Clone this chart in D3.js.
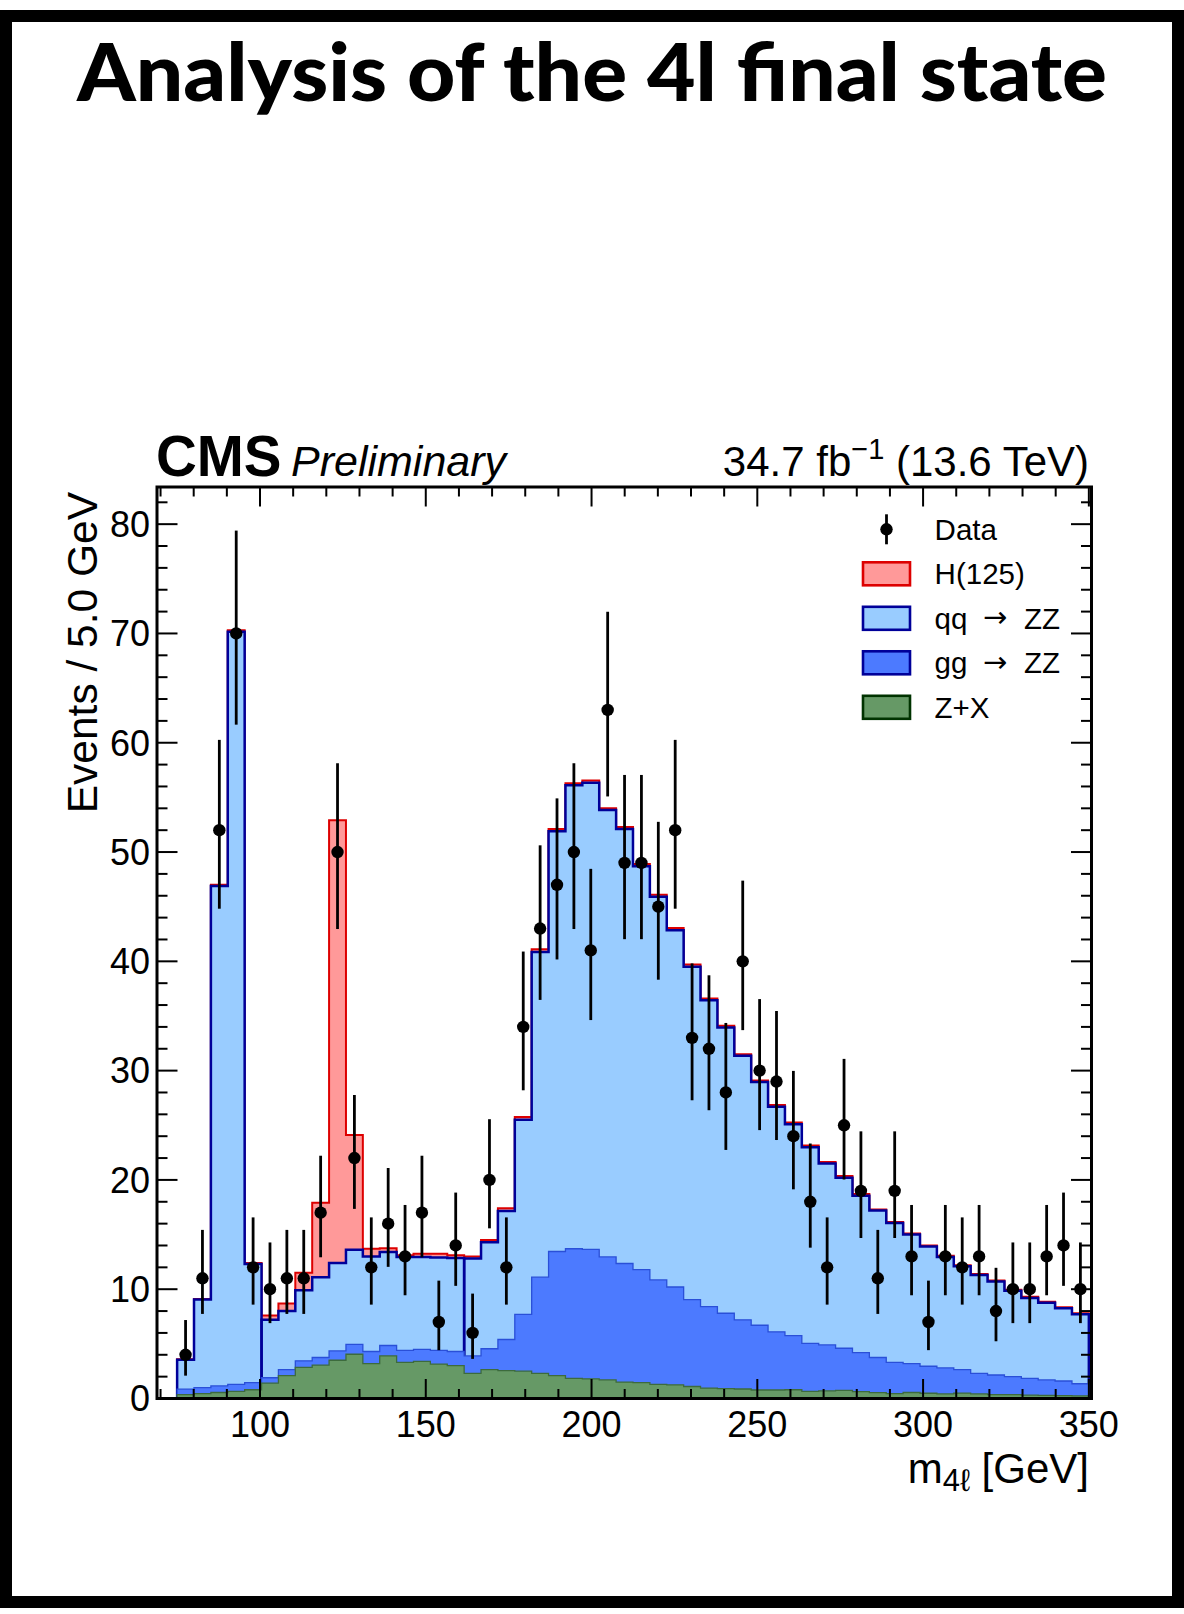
<!DOCTYPE html>
<html>
<head>
<meta charset="utf-8">
<script src="https://cdn.jsdelivr.net/npm/d3@7"></script>
<style>
  html, body { margin: 0; padding: 0; background: #ffffff; }
  svg { display: block; }
  text { font-family: "Liberation Sans", Arial, Helvetica, sans-serif; }
</style>
</head>
<body>
<svg id="chart" width="1184" height="1614"></svg>
<script>
// ---- binning of the four-lepton mass histogram (GeV) ----
const binLow = 75;
const binHigh = 350;
const nBins = 54;

// observed events per bin
const dataCounts = [
  4, 11, 52, 70, 12, 10, 11, 11, 17, 50,
  22, 12, 16, 13, 17, 7, 14, 6, 20, 12,
  34, 43, 47, 50, 41, 63, 49, 49, 45, 52,
  33, 32, 28, 40, 30, 29, 24, 18, 12, 25,
  19, 11, 19, 13, 7, 13, 12, 13, 8, 10,
  10, 13, 14, 10
];

// expected yields per bin, one array per process
const zxYield = [
  0.35, 0.45, 0.55, 0.65, 0.80, 1.40, 2.10, 2.85, 3.05, 3.50,
  4.05, 3.20, 3.90, 3.30, 3.40, 3.15, 3.00, 2.30, 2.65, 2.55,
  2.50, 2.30, 2.10, 1.85, 1.80, 1.70, 1.50, 1.45, 1.30, 1.25,
  1.10, 0.95, 0.90, 0.87, 0.78, 0.78, 0.80, 0.65, 0.70, 0.75,
  0.62, 0.53, 0.45, 0.55, 0.48, 0.42, 0.50, 0.42, 0.36, 0.36,
  0.30, 0.28, 0.27, 0.24
];
const ggYield = [
  0.50, 0.55, 0.60, 0.65, 0.65, 0.50, 0.55, 0.60, 0.70, 0.85,
  0.90, 1.10, 0.95, 1.10, 1.10, 1.25, 1.30, 1.60, 1.90, 2.85,
  5.20, 8.80, 11.35, 11.85, 11.85, 11.25, 10.85, 10.35, 9.55, 8.95,
  7.95, 7.45, 6.90, 6.33, 5.92, 5.32, 4.95, 4.40, 4.20, 3.85,
  3.58, 3.22, 2.85, 2.65, 2.47, 2.38, 2.15, 1.88, 1.79, 1.64,
  1.55, 1.42, 1.33, 1.11
];
const qqYield = [
  2.70, 8.05, 45.75, 68.85, 10.85, 5.30, 5.35, 6.45, 7.35, 8.05,
  8.65, 8.70, 8.55, 8.55, 8.45, 8.50, 8.55, 8.90, 9.75, 11.75,
  17.80, 29.75, 38.45, 42.40, 42.70, 40.90, 39.75, 36.90, 35.05, 32.65,
  30.45, 28.05, 26.15, 24.15, 22.25, 20.60, 19.35, 17.95, 16.60, 15.60,
  14.35, 13.45, 12.75, 11.80, 10.95, 10.15, 9.45, 9.00, 8.55, 7.85,
  7.35, 7.05, 6.65, 6.35
];
const higgsYield = [
  0.05, 0.05, 0.10, 0.15, 0.10, 0.40, 0.70, 1.60, 6.80, 40.50,
  10.50, 0.70, 0.35, 0.15, 0.30, 0.35, 0.25, 0.20, 0.20, 0.25,
  0.25, 0.25, 0.20, 0.20, 0.20, 0.15, 0.20, 0.20, 0.20, 0.20,
  0.20, 0.15, 0.15, 0.15, 0.15, 0.15, 0.15, 0.15, 0.15, 0.15,
  0.15, 0.10, 0.10, 0.10, 0.10, 0.10, 0.10, 0.10, 0.10, 0.10,
  0.10, 0.10, 0.10, 0.10
];

// the qq -> ZZ outline is drawn in three mass windows (first bin of each)
const qqWindowStarts = [0, 5, 17];

const xTickValues = [100, 150, 200, 250, 300, 350];
const yTickValues = [0, 10, 20, 30, 40, 50, 60, 70, 80];

const legendEntries = [
  { key: "data", label: "Data" },
  { key: "higgs", label: "H(125)", fill: "#ff9999", stroke: "#dd0000" },
  { key: "qq", label: "qq", arrow: true, fill: "#99ccff", stroke: "#000099" },
  { key: "gg", label: "gg", arrow: true, fill: "#4c7aff", stroke: "#000099" },
  { key: "zx", label: "Z+X", fill: "#669966", stroke: "#003300" }
];

// ---- frame and scales ----
const frame = { left: 157, right: 1091.5, top: 487, bottom: 1398.5 };
const x = d3.scaleLinear().domain([68.93, 350.8]).range([frame.left, frame.right]);
const y = d3.scaleLinear().domain([0, 83.4]).range([frame.bottom, frame.top]);

const edges = d3.range(nBins + 1).map(i => binLow + i * (binHigh - binLow) / nBins);
const centers = d3.range(nBins).map(i => (edges[i] + edges[i + 1]) / 2);

// stacked tops: Z+X at the bottom, then gg, qq and H(125) on top
const zxTop = zxYield.slice();
const ggTop = zxTop.map((v, i) => v + ggYield[i]);
const qqTop = ggTop.map((v, i) => v + qqYield[i]);
const totTop = qqTop.map((v, i) => v + higgsYield[i]);

const svg = d3.select("#chart");

// page border
svg.append("rect")
  .attr("x", 6).attr("y", 16).attr("width", 1172).attr("height", 1586)
  .attr("fill", "none").attr("stroke", "#000").attr("stroke-width", 12);

// headline
svg.append("text")
  .attr("x", 77).attr("y", 101)
  .attr("textLength", 1030).attr("lengthAdjust", "spacingAndGlyphs")
  .style("font-family", "Lato, 'Open Sans', sans-serif")
  .style("font-weight", 900)
  .style("font-size", "80px")
  .text("Analysis of the 4l final state");

// step outline from bin a to bin b, starting and ending on the baseline
function stepPath(tops, a, b) {
  let p = `M${x(edges[a])},${y(0)}`;
  for (let i = a; i <= b; i++) {
    p += `L${x(edges[i])},${y(tops[i])}L${x(edges[i + 1])},${y(tops[i])}`;
  }
  p += `L${x(edges[b + 1])},${y(0)}`;
  return p;
}

const plot = svg.append("g");

function drawLayer(tops, fill, stroke, width, windows) {
  plot.append("path")
    .attr("d", stepPath(tops, 0, nBins - 1) + "Z")
    .attr("fill", fill).attr("stroke", "none");
  windows.forEach((start, w) => {
    const end = w + 1 < windows.length ? windows[w + 1] - 1 : nBins - 1;
    plot.append("path")
      .attr("d", stepPath(tops, start, end))
      .attr("fill", "none").attr("stroke", stroke)
      .attr("stroke-width", width).attr("stroke-linejoin", "miter");
  });
}

drawLayer(totTop, "#ff9999", "#dd0000", 2, [0]);
drawLayer(qqTop, "#99ccff", "#000099", 2.5, qqWindowStarts);
drawLayer(ggTop, "#4c7aff", "#2a4fd8", 1.3, [0]);
drawLayer(zxTop, "#669966", "#3d6b3d", 1.3, [0]);

// ---- axes ----
const axes = svg.append("g").attr("stroke", "#000");
const xMinor = d3.range(70, 351, 10);
const yMinor = d3.range(0, 83.4, 2);

xMinor.forEach(v => {
  const major = xTickValues.includes(v);
  const len = major ? 19.5 : 9.5;
  axes.append("line").attr("x1", x(v)).attr("x2", x(v))
    .attr("y1", frame.bottom).attr("y2", frame.bottom - len).attr("stroke-width", 2);
  axes.append("line").attr("x1", x(v)).attr("x2", x(v))
    .attr("y1", frame.top).attr("y2", frame.top + len).attr("stroke-width", 2);
});
yMinor.forEach(v => {
  const major = Math.abs(v % 10) < 1e-9;
  const len = major ? 20.5 : 10.5;
  axes.append("line").attr("y1", y(v)).attr("y2", y(v))
    .attr("x1", frame.left).attr("x2", frame.left + len).attr("stroke-width", 2);
  axes.append("line").attr("y1", y(v)).attr("y2", y(v))
    .attr("x1", frame.right).attr("x2", frame.right - len).attr("stroke-width", 2);
});

svg.append("rect")
  .attr("x", frame.left).attr("y", frame.top)
  .attr("width", frame.right - frame.left).attr("height", frame.bottom - frame.top)
  .attr("fill", "none").attr("stroke", "#000").attr("stroke-width", 3);

svg.append("g").selectAll("text").data(xTickValues).join("text")
  .attr("x", d => x(d)).attr("y", 1436.5)
  .attr("text-anchor", "middle").style("font-size", "36px")
  .text(d => d);

svg.append("g").selectAll("text").data(yTickValues).join("text")
  .attr("x", 150).attr("y", d => y(d) + 12.8)
  .attr("text-anchor", "end").style("font-size", "36px")
  .text(d => d);

// axis titles
svg.append("text")
  .attr("transform", "translate(97,492) rotate(-90)")
  .attr("text-anchor", "end").style("font-size", "42.5px")
  .text("Events / 5.0 GeV");

const xTitle = svg.append("text")
  .attr("x", 1089).attr("y", 1483)
  .attr("text-anchor", "end").style("font-size", "42px");
xTitle.append("tspan").text("m");
xTitle.append("tspan").attr("dy", 8).style("font-size", "31px").text("4ℓ");
xTitle.append("tspan").attr("dy", -8).text(" [GeV]");

// ---- data with Poisson (Gehrels) 68% intervals ----
function poissonLow(n) {
  if (n === 0) return 0;
  return n * Math.pow(1 - 1 / (9 * n) - 1 / (3 * Math.sqrt(n)), 3);
}
function poissonHigh(n) {
  return n + Math.sqrt(n + 0.75) + 1;
}

const pts = svg.append("g");
dataCounts.forEach((n, i) => {
  pts.append("line")
    .attr("x1", x(centers[i])).attr("x2", x(centers[i]))
    .attr("y1", y(poissonLow(n))).attr("y2", y(poissonHigh(n)))
    .attr("stroke", "#000").attr("stroke-width", 2.8);
  pts.append("circle")
    .attr("cx", x(centers[i])).attr("cy", y(n)).attr("r", 6.2)
    .attr("fill", "#000");
});

// ---- legend ----
const legend = svg.append("g");
const legX = 863, legTextX = 934.6, legY0 = 529.3, legStep = 44.5;
legendEntries.forEach((e, i) => {
  const cy = legY0 + i * legStep;
  if (e.key === "data") {
    legend.append("line").attr("x1", legX + 23.5).attr("x2", legX + 23.5)
      .attr("y1", cy - 15).attr("y2", cy + 15)
      .attr("stroke", "#000").attr("stroke-width", 2.8);
    legend.append("circle").attr("cx", legX + 23.5).attr("cy", cy).attr("r", 6.2)
      .attr("fill", "#000");
  } else {
    legend.append("rect").attr("x", legX).attr("y", cy - 11.5)
      .attr("width", 47).attr("height", 23)
      .attr("fill", e.fill).attr("stroke", e.stroke).attr("stroke-width", 2.6);
  }
  legend.append("text").attr("x", legTextX).attr("y", cy + 10.6)
    .style("font-size", "29.5px").text(e.label);
  if (e.arrow) {
    legend.append("text").attr("x", 983).attr("y", cy + 9)
      .style("font-family", "'DejaVu Sans', sans-serif")
      .style("font-size", "29px").text("→");
    legend.append("text").attr("x", 1024).attr("y", cy + 10.6)
      .style("font-size", "29.5px").text("ZZ");
  }
});

// ---- experiment label and luminosity ----
svg.append("text").attr("x", 156).attr("y", 476)
  .style("font-size", "56.5px").style("font-weight", "bold").text("CMS");
svg.append("text").attr("x", 291).attr("y", 476)
  .style("font-size", "43px").style("font-style", "italic").text("Preliminary");

const lumi = svg.append("text").attr("x", 1089).attr("y", 476)
  .attr("text-anchor", "end").style("font-size", "42px");
lumi.append("tspan").text("34.7 fb");
lumi.append("tspan").attr("dy", -17).style("font-size", "29px").text("−1");
lumi.append("tspan").attr("dy", 17).text(" (13.6 TeV)");
</script>
</body>
</html>
